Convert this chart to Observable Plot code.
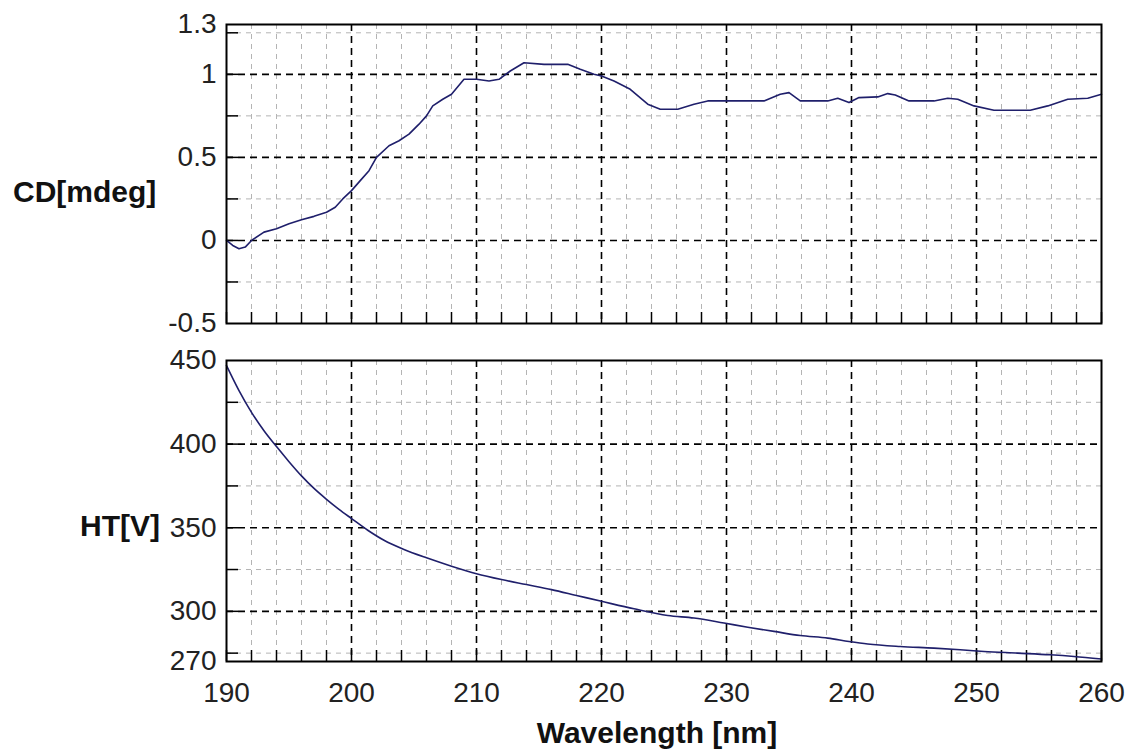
<!DOCTYPE html>
<html>
<head>
<meta charset="utf-8">
<script src="https://cdn.jsdelivr.net/npm/d3@7"></script>
<script src="https://cdn.jsdelivr.net/npm/@observablehq/plot@0.6"></script>
<style>
  html, body { margin: 0; padding: 0; background: #fff; }
  #wrap { position: relative; width: 1125px; height: 750px; font-family: "Liberation Sans", Arial, sans-serif; }
  .panel { position: absolute; left: 0; }
  .lbl { position: absolute; font-weight: bold; font-size: 30px; color: #111; line-height: 1; white-space: nowrap; }
</style>
</head>
<body>
<div id="wrap"></div>
<script>
// ---- data ----
const wavelengthCD = [190,190.5,191,191.5,192,193,194,195,196,197,198,198.7,199.3,200,200.7,201.4,202,203,203.8,204.6,205.4,206,206.5,207.3,208,209,210,211,211.8,212.7,213.8,215.4,217.3,218.3,219.4,220,221,222.3,223.7,224.7,226.1,227.4,228.5,230.6,233,234.3,235,235.9,238.1,238.9,239.8,240.6,242.1,242.9,243.5,244.6,246.6,247.7,248.5,249.8,251.4,254.3,255.7,257.3,258.9,260];
const cdValues     = [0.0,-0.03,-0.05,-0.04,0.0,0.05,0.07,0.10,0.125,0.145,0.17,0.20,0.25,0.30,0.36,0.42,0.50,0.57,0.60,0.64,0.70,0.75,0.81,0.85,0.88,0.97,0.97,0.96,0.97,1.02,1.07,1.06,1.06,1.03,1.00,0.99,0.96,0.91,0.82,0.79,0.79,0.82,0.84,0.84,0.84,0.88,0.89,0.84,0.84,0.856,0.83,0.86,0.864,0.884,0.876,0.84,0.84,0.856,0.85,0.81,0.784,0.784,0.81,0.85,0.856,0.88];

const wavelengthHT = [190,191,192,193,194,195,196,197,198,199,200,201.3,202.6,204.2,206,208,210,212,214,216,218,220,222.6,225.3,227.4,229.8,231.7,233.8,235.9,238.1,239.8,241.3,243.9,246.6,248.7,250.6,253.3,255.9,257.8,260];
const htValues     = [447,432,419,408,398.5,389.5,381,373.5,367,361,355.5,348.5,342.5,337,332,327,322.5,319,316,313,309.5,306,301.5,297.5,296,293,290.5,288,285.5,284,282,280.5,279,278,277,276,275,274,273,271.5];

const xMajorTicks = [190,200,210,220,230,240,250,260];
const xMinorTicks = d3.range(192, 260, 2).filter(v => v % 10 !== 0);
const cdMajorTicks = [-0.5,0,0.5,1,1.3];
const cdGridMajor = [0,0.5,1];
const cdGridMinor = [-0.25,0.25,0.75,1.25];
const htMajorTicks = [270,300,350,400,450];
const htGridMajor = [300,350,400];
const htGridMinor = [275,325,375,425];

const cdData = wavelengthCD.map((w,i) => ({w, v: cdValues[i]}));
const htData = wavelengthHT.map((w,i) => ({w, v: htValues[i]}));

const lineColor = "#1f1f6b";
const W = 1125, ML = 226, MR = 24;
const plotW = W - ML - MR;

function panel({data, yDomain, yTicks, gridMajor, gridMinor, height, mTop, mBottom, showX, curve}) {
  const plotH = height - mTop - mBottom;
  const marks = [
    Plot.ruleX(xMinorTicks, {x: d => d, stroke: "#b4b4b4", strokeWidth: 1, strokeDasharray: "5,5"}),
    Plot.ruleY(gridMinor, {y: d => d, stroke: "#b4b4b4", strokeWidth: 1, strokeDasharray: "5,5"}),
    Plot.ruleX(xMajorTicks.slice(1, -1), {x: d => d, stroke: "#000", strokeWidth: 1.6, strokeDasharray: "7,5"}),
    Plot.ruleY(gridMajor, {y: d => d, stroke: "#000", strokeWidth: 1.6, strokeDasharray: "7,5"}),
    Plot.tickX(xMinorTicks.concat(xMajorTicks), {x: d => d, stroke: "#000", strokeWidth: 1.5, insetTop: plotH - 11}),
    Plot.tickY(gridMajor.concat(gridMinor), {y: d => d, stroke: "#000", strokeWidth: 1.5, insetRight: plotW - 12}),
    Plot.line(data, {x: "w", y: "v", stroke: lineColor, strokeWidth: 1.6, curve}),
    Plot.frame({stroke: "#000", strokeWidth: 2}),
    Plot.axisY(yTicks, {tickSize: 0, tickPadding: 10, fill: "#222", fontSize: 28, label: null, tickFormat: d => String(d)})
  ];
  if (showX) marks.push(Plot.axisX(xMajorTicks, {tickSize: 0, tickPadding: 21, fill: "#222", fontSize: 28, label: null, tickFormat: d => String(d)}));
  return Plot.plot({
    width: W, height,
    marginLeft: ML, marginRight: MR, marginTop: mTop, marginBottom: mBottom,
    style: {fontFamily: "'Liberation Sans', Arial, sans-serif", fontSize: "28px", background: "transparent", overflow: "visible"},
    x: {domain: [190, 260], axis: null, label: null},
    y: {domain: yDomain, axis: null, label: null},
    marks
  });
}

const wrap = document.getElementById("wrap");

const cdPanel = panel({data: cdData, yDomain: [-0.5, 1.3], yTicks: cdMajorTicks, gridMajor: cdGridMajor, gridMinor: cdGridMinor, height: 340, mTop: 24, mBottom: 17, showX: false, curve: "linear"});
cdPanel.classList.add("panel"); cdPanel.style.top = "0px";
wrap.appendChild(cdPanel);

const htPanel = panel({data: htData, yDomain: [270, 450], yTicks: htMajorTicks, gridMajor: htGridMajor, gridMinor: htGridMinor, height: 410, mTop: 20, mBottom: 89, showX: true, curve: "monotone-x"});
htPanel.classList.add("panel"); htPanel.style.top = "340px";
wrap.appendChild(htPanel);

function label(text, css) {
  const d = document.createElement("div");
  d.className = "lbl";
  d.textContent = text;
  Object.assign(d.style, css);
  wrap.appendChild(d);
}
label("CD[mdeg]", {left: "13px", top: "177px"});
label("HT[V]", {left: "80px", top: "511px"});
label("Wavelength [nm]", {left: "657px", top: "718px", transform: "translateX(-50%)"});
</script>
</body>
</html>
